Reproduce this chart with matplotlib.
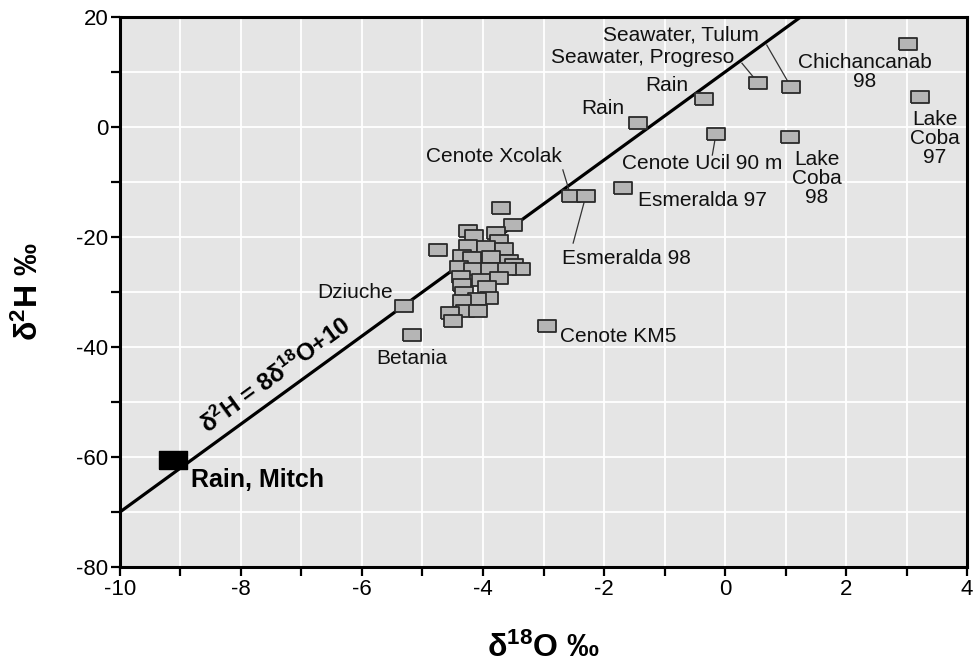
import numpy as np
import matplotlib.pyplot as plt

plt.rcParams['font.family'] = ['Liberation Sans', 'DejaVu Sans']
plt.rcParams['mathtext.fontset'] = 'custom'
plt.rcParams['mathtext.rm'] = 'Liberation Sans'
plt.rcParams['mathtext.bf'] = 'Liberation Sans:bold'
plt.rcParams['mathtext.default'] = 'regular'
plt.rcParams['axes.unicode_minus'] = False

# cenote cluster (unlabelled samples)
cluster_x = [-3.70, -3.50, -4.25, -3.78, -4.15, -3.74, -4.24, -3.95, -3.65, -4.35, -4.19,
             -3.86, -3.57, -3.49, -3.38, -4.39, -4.17, -3.88, -3.61, -4.37, -4.04, -3.74,
             -4.35, -3.93, -4.32, -3.90, -4.10, -4.34, -4.30, -4.08, -4.54, -4.50, -4.75]
cluster_y = [-14.7, -17.8, -18.9, -19.2, -19.8, -20.7, -21.6, -21.8, -22.1, -23.5, -23.8,
             -23.7, -24.4, -25.0, -25.9, -25.5, -25.9, -25.9, -25.8, -27.2, -27.8, -27.5,
             -28.8, -29.0, -30.1, -31.0, -31.2, -31.6, -33.4, -33.5, -33.9, -35.3, -22.4]

# labelled samples
names = ['Dziuche', 'Betania', 'Cenote KM5', 'Cenote Xcolak', 'Esmeralda 98', 'Esmeralda 97',
         'Rain', 'Rain', 'Cenote Ucil 90 m', 'Seawater, Progreso', 'Seawater, Tulum',
         'Lake\nCoba\n98', 'Chichancanab\n98', 'Lake\nCoba\n97']
named_x = [-5.31, -5.18, -2.95, -2.55, -2.30, -1.69, -1.44, -0.35, -0.15, 0.55, 1.09, 1.08, 3.03, 3.23]
named_y = [-32.5, -37.8, -36.2, -12.5, -12.5, -11.1, 0.7, 5.1, -1.3, 8.0, 7.3, -1.8, 15.1, 5.5]
# label anchor positions
label_x = [-6.12, -5.17, -1.76, -3.82, -1.63, -0.37, -2.02, -0.96, -0.385, -1.36, -0.727, 1.52, 2.31, 3.47]
label_y = [-30.0, -42.0, -38.1, -5.45, -23.9, -13.3, 3.45, 7.6, -6.7, 12.7, 16.7, -9.3, 10.0, -2.0]
# leader line starts (None = no leader)
leader = [None, None, None, (-2.68, -7.8), (-2.51, -21.1), None, None, None, (-0.21, -5.1),
          (0.28, 11.6), (0.69, 14.9), None, None, None]

mitch_x, mitch_y = [-9.12], [-60.5]

lmwl_x = np.array([-10, 4])
lmwl_y = 8 * lmwl_x + 10

box = [(-1.5, -1), (1.5, -1), (1.5, 1), (-1.5, 1), (-1.5, -1)]

fig = plt.figure(figsize=(9.77, 6.70), dpi=100)
ax = fig.add_axes([0.1228, 0.1537, 0.867, 0.8209])
ax.set_facecolor('#e5e5e5')

ax.set_xlim(-10, 4)
ax.set_ylim(-80, 20)
ax.set_xticks(np.arange(-10, 5, 2))
ax.set_xticks(np.arange(-10, 5, 1), minor=True)
ax.set_yticks(np.arange(-80, 21, 20))
ax.set_yticks(np.arange(-80, 21, 10), minor=True)
ax.grid(True, which='both', color='white', lw=1.3)
ax.set_axisbelow(True)
ax.tick_params(which='both', direction='out', length=6.5, width=1.6, labelsize=16, pad=2)
for s in ax.spines.values():
    s.set_linewidth(2.2)

ax.plot(lmwl_x, lmwl_y, color='black', lw=2.3, zorder=3)

for i, ls in enumerate(leader):
    if ls is not None:
        ax.plot([ls[0], named_x[i]], [ls[1], named_y[i]], color='#333333', lw=0.9, zorder=3)

ax.plot(cluster_x, cluster_y, ls='none', marker=box, ms=13, mfc='#b5b5b5', mec='#2a2a2a', mew=1.3, zorder=4)
ax.plot(named_x, named_y, ls='none', marker=box, ms=13, mfc='#b5b5b5', mec='#2a2a2a', mew=1.3, zorder=4)
ax.plot(mitch_x, mitch_y, ls='none', marker=box, ms=20, mfc='black', mec='black', mew=1, zorder=4)

for i, n in enumerate(names):
    ax.text(label_x[i], label_y[i], n, fontsize=15, ha='center', va='center',
            linespacing=1.0, color='#111111', zorder=5)

ax.text(-7.72, -64.2, 'Rain, Mitch', fontsize=18, fontweight='bold', ha='center', va='center')
ax.text(-7.42, -45.2, r'$\delta^{2}$H = 8$\delta^{18}$O+10', fontsize=17.5, fontweight='bold',
        ha='center', va='center', rotation=36, rotation_mode='anchor')

ax.set_xlabel(r'$\delta^{18}$O ‰', fontsize=23, fontweight='bold', labelpad=24)
ax.set_ylabel(r'$\delta^{2}$H ‰', fontsize=23, fontweight='bold', labelpad=22)

fig.savefig('out.png', dpi=100)
